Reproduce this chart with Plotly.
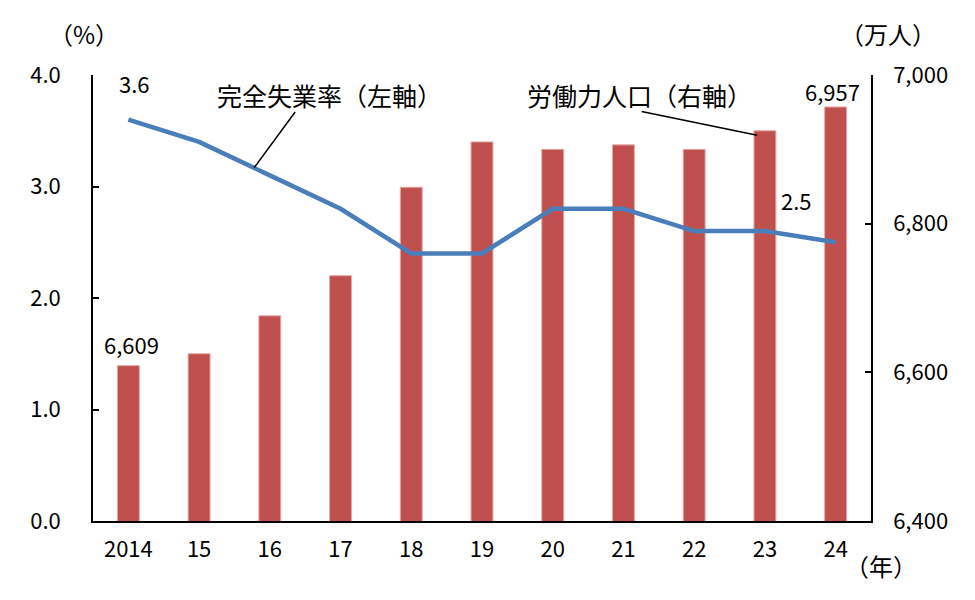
import plotly.graph_objects as go

years = ["2014", "15", "16", "17", "18", "19", "20", "21", "22", "23", "24"]
labor_force = [6609, 6625, 6676, 6730, 6849, 6910, 6900, 6906, 6900, 6925, 6957]
unemployment = [3.6, 3.4, 3.1, 2.8, 2.4, 2.4, 2.8, 2.8, 2.6, 2.6, 2.5]
left_ticks = [0.0, 1.0, 2.0, 3.0, 4.0]
right_ticks = [6400, 6600, 6800, 7000]

FONT = "Noto Sans CJK JP"
BAR = "#C0504D"
LINE = "#4A7EBB"

xpos = list(range(len(years)))

fig = go.Figure()
# bars on the base y axis (drawn on the right side), line on overlaying y2 (left side) so it sits on top
fig.add_trace(go.Bar(x=xpos, y=labor_force, yaxis="y",
                     marker=dict(color=BAR, line=dict(width=1, color="#E6A9A7")),
                     width=0.31, name="労働力人口（右軸）"))
fig.add_trace(go.Scatter(x=xpos, y=unemployment, yaxis="y2", mode="lines",
                         line=dict(color=LINE, width=4.5), name="完全失業率（左軸）"))

axis_common = dict(showgrid=False, zeroline=False, showline=True, linecolor="black", linewidth=1.5,
                   ticks="inside", ticklen=6, tickcolor="black", tickwidth=1.5,
                   tickfont=dict(family=FONT, size=22, color="black"))

fig.update_layout(
    width=975, height=600,
    margin=dict(l=93, r=104, t=75, b=79),
    paper_bgcolor="white", plot_bgcolor="white",
    showlegend=False,
    font=dict(family=FONT, color="black"),
    xaxis=dict(range=[-0.5, len(years) - 0.5], tickvals=xpos, ticktext=years,
               showgrid=False, zeroline=False, showline=True, linecolor="black", linewidth=1.5,
               ticks="", ticklabelstandoff=8,
               tickfont=dict(family=FONT, size=22, color="black")),
    yaxis=dict(range=[6400, 7000], tickvals=right_ticks, tickformat=",", side="right",
               ticklabelstandoff=16, **axis_common),
    yaxis2=dict(range=[0, 4.0], tickvals=left_ticks, tickformat=".1f", side="left",
                overlaying="y", ticklabelstandoff=26, **axis_common),
)

ann_font = dict(family=FONT, size=22, color="black")
anns = [
    dict(text="（%）", xref="paper", yref="paper", x=-0.012, y=1.094, showarrow=False,
         xanchor="center", yanchor="middle", font=dict(family=FONT, size=24)),
    dict(text="（万人）", xref="paper", yref="paper", x=1.022, y=1.094, showarrow=False,
         xanchor="center", yanchor="middle", font=dict(family=FONT, size=24)),
    dict(text="（年）", xref="paper", yref="paper", x=1.013, y=-0.099, showarrow=False,
         xanchor="center", yanchor="middle", font=dict(family=FONT, size=24)),
    dict(text=f"{unemployment[0]:.1f}", x=xpos[0], y=unemployment[0], xref="x", yref="y2",
         showarrow=False, yanchor="middle", yshift=37, xshift=6, font=ann_font),
    dict(text=f"{unemployment[-1]:.1f}", x=xpos[-1], y=unemployment[-1], xref="x", yref="y2",
         showarrow=False, yanchor="middle", yshift=42, xshift=-39, font=ann_font),
    dict(text=f"{labor_force[0]:,}", x=xpos[0], y=labor_force[0], xref="x", yref="y",
         showarrow=False, yanchor="middle", yshift=22, xshift=3, font=ann_font),
    dict(text=f"{labor_force[-1]:,}", x=xpos[-1], y=labor_force[-1], xref="x", yref="y",
         showarrow=False, yanchor="middle", yshift=16, xshift=-3, font=ann_font),
    dict(text="完全失業率（左軸）", xref="paper", yref="paper", x=0.157, y=0.955, showarrow=False,
         xanchor="left", yanchor="middle", font=dict(family=FONT, size=25)),
    dict(text="労働力人口（右軸）", xref="paper", yref="paper", x=0.555, y=0.955, showarrow=False,
         xanchor="left", yanchor="middle", font=dict(family=FONT, size=25)),
    dict(text="", x=1.78, y=3.17, xref="x", yref="y2", showarrow=True, arrowhead=0,
         arrowwidth=1.5, arrowcolor="black", ax=42, ay=-57, axref="pixel", ayref="pixel"),
    dict(text="", x=8.89, y=6919, xref="x", yref="y", showarrow=True, arrowhead=0,
         arrowwidth=1.5, arrowcolor="black", ax=-117, ay=-24, axref="pixel", ayref="pixel"),
]
fig.update_layout(annotations=anns)

fig.write_html("out.html", config={"displayModeBar": False},
               post_script="document.body.style.margin='0';")
